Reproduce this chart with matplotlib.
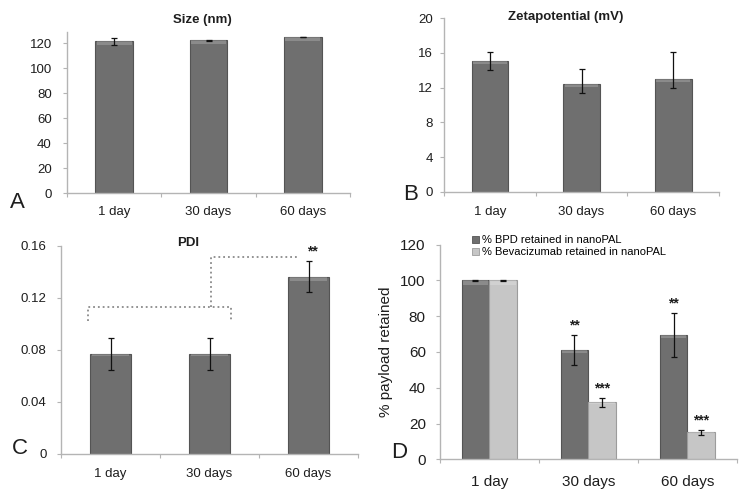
import numpy as np
import matplotlib
matplotlib.use("Agg")
import matplotlib.pyplot as plt

plt.rcParams['font.family'] = ['Liberation Sans', 'DejaVu Sans']

days = ['1 day', '30 days', '60 days']

# A - size (nm)
size_vals = [121.6, 122.4, 124.6]
size_err = [2.7, 0.5, 0.0]

# B - zeta potential (mV), asymmetric error bars
zeta_vals = [15.1, 12.4, 13.0]
zeta_err_lo = [1.1, 1.05, 1.0]
zeta_err_hi = [1.0, 1.75, 3.15]

# C - PDI
pdi_vals = [0.077, 0.077, 0.1365]
pdi_err = [0.012, 0.012, 0.012]

# D - payload retained (%)
bpd_vals = [100, 61.1, 69.4]
bpd_err = [0.3, 8.2, 12.4]
bev_vals = [100, 31.8, 15.1]
bev_err = [0.3, 2.5, 1.3]
bpd_stars = ['', '**', '**']
bev_stars = ['', '***', '***']

W, H = 748, 497
DARK = '#6f6f6f'
DARK_EDGE = '#545454'
LIGHT = '#c6c6c6'
LIGHT_EDGE = '#9c9c9c'
SPINE = '#b4b4b4'
TXT = '#1e1e1e'


def px_axes(fig, x0, y_top, x1, y_bot):
    return fig.add_axes([x0 / W, 1 - y_bot / H, (x1 - x0) / W, (y_bot - y_top) / H])


def style(ax, ylim, yticks, yfmt, fs, ypad, xpad):
    x = np.arange(len(days))
    ax.set_xlim(-0.5, len(days) - 0.5)
    ax.set_ylim(*ylim)
    ax.set_yticks(yticks)
    ax.set_yticklabels([yfmt(v) for v in yticks], fontsize=fs, color=TXT)
    ax.set_xticks(np.arange(len(days) + 1) - 0.5)
    ax.set_xticklabels([])
    ax.set_xticks(x, minor=True)
    ax.set_xticklabels(days, minor=True, fontsize=fs, color=TXT)
    ax.tick_params(axis='x', which='major', length=3, color=SPINE, direction='out')
    ax.tick_params(axis='x', which='minor', length=0, pad=xpad)
    ax.tick_params(axis='y', length=3, color=SPINE, direction='out', pad=ypad)
    for s in ['top', 'right']:
        ax.spines[s].set_visible(False)
    for s in ['left', 'bottom']:
        ax.spines[s].set_color(SPINE)
        ax.spines[s].set_linewidth(1.0)
    return x


def bars(ax, x, vals, err, width, color, edge):
    ax.bar(x, vals, width, color=color, edgecolor=edge, linewidth=0.8, zorder=2)
    # lighter bevel along the bar top
    v = np.array(vals)
    ax.bar(x, v * 0.025, width * 0.92, bottom=v * 0.975, color='white', alpha=0.2,
           linewidth=0, zorder=3)
    ax.errorbar(x, vals, yerr=err, fmt='none', ecolor='#111111', elinewidth=0.9,
                capsize=2.5, capthick=0.9, zorder=4)


fig = plt.figure(figsize=(W / 100, H / 100), dpi=100)

# ---- A ----
axA = px_axes(fig, 67, 32, 350, 193)
x = style(axA, (0, 129), np.arange(0, 121, 20), lambda v: f'{v:d}', 9.5, 8, 9)
bars(axA, x, size_vals, size_err, 0.40, DARK, DARK_EDGE)
fig.text(202 / W, 1 - 20 / H, 'Size (nm)', ha='center', va='center', fontsize=9.5,
         fontweight='bold', color=TXT)
fig.text(17 / W, 1 - 203 / H, 'A', ha='center', va='center', fontsize=16, color=TXT)

# ---- B ----
axB = px_axes(fig, 444, 18.3, 719, 191.7)
x = style(axB, (0, 20), np.arange(0, 21, 4), lambda v: f'{v:d}', 9.5, 5, 10)
bars(axB, x, zeta_vals, [zeta_err_lo, zeta_err_hi], 0.40, DARK, DARK_EDGE)
fig.text(566 / W, 1 - 17 / H, 'Zetapotential (mV)', ha='center', va='center', fontsize=9.5,
         fontweight='bold', color=TXT)
fig.text(411 / W, 1 - 194 / H, 'B', ha='center', va='center', fontsize=16, color=TXT)

# ---- C ----
axC = px_axes(fig, 61, 246, 358, 454)
x = style(axC, (0, 0.16), [0, 0.04, 0.08, 0.12, 0.16],
          lambda v: '0' if v == 0 else f'{v:.2f}', 9.5, 7.5, 10)
bars(axC, x, pdi_vals, pdi_err, 0.41, DARK, DARK_EDGE)
# significance bracket: 1 day & 30 days vs 60 days
lo, hi, top = 0.1023, 0.1128, 0.1518
axC.plot([x[0] - 0.23, x[0] - 0.23, x[1] + 0.217, x[1] + 0.217],
         [lo, hi, hi, lo], ls=':', color='#8a8a8a', lw=1.3, clip_on=False)
axC.plot([x[1] + 0.012, x[1] + 0.012, x[2] - 0.12],
         [hi, top, top], ls=':', color='#8a8a8a', lw=1.3, clip_on=False)
axC.text(x[2] + 0.04, pdi_vals[2] + pdi_err[2] + 0.002, '**', ha='center', va='bottom',
         fontsize=10, fontweight='bold', color=TXT)
fig.text(188 / W, 1 - 243 / H, 'PDI', ha='center', va='center', fontsize=9.5,
         fontweight='bold', color=TXT)
fig.text(20 / W, 1 - 448 / H, 'C', ha='center', va='center', fontsize=16, color=TXT)

# ---- D ----
axD = px_axes(fig, 439.7, 244.5, 737, 459.3)
x = style(axD, (0, 120), np.arange(0, 121, 20), lambda v: f'{v:d}', 11, 7, 11)
bw = 0.28
bars(axD, x - bw / 2, bpd_vals, bpd_err, bw, DARK, DARK_EDGE)
bars(axD, x + bw / 2, bev_vals, bev_err, bw, LIGHT, LIGHT_EDGE)
for i in range(len(days)):
    if bpd_stars[i]:
        axD.text(x[i] - bw / 2, bpd_vals[i] + bpd_err[i] + 1.5, bpd_stars[i], ha='center',
                 va='bottom', fontsize=10, fontweight='bold', color=TXT)
    if bev_stars[i]:
        axD.text(x[i] + bw / 2, bev_vals[i] + bev_err[i] + 1.5, bev_stars[i], ha='center',
                 va='bottom', fontsize=10, fontweight='bold', color=TXT)
axD.set_ylabel('% payload retained', fontsize=11, color=TXT, labelpad=5)
handles = [plt.Rectangle((0, 0), 1, 1, fc=DARK, ec=DARK_EDGE, lw=0.6),
           plt.Rectangle((0, 0), 1, 1, fc=LIGHT, ec=LIGHT_EDGE, lw=0.6)]
fig.legend(handles, ['% BPD retained in nanoPAL', '% Bevacizumab retained in nanoPAL'],
           loc='upper left', bbox_to_anchor=(472 / W, 1 - 235 / H), frameon=False,
           fontsize=8, handlelength=0.6, handleheight=0.6, handletextpad=0.3,
           labelspacing=0.2, borderpad=0, borderaxespad=0)
fig.text(399 / W, 1 - 452 / H, 'D', ha='center', va='center', fontsize=16, color=TXT)

fig.savefig('out.png', dpi=100)
